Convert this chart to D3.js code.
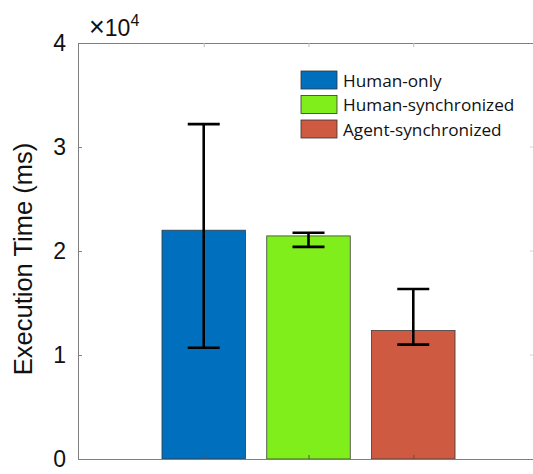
<!DOCTYPE html>
<html>
<head>
<meta charset="utf-8">
<script src="https://cdn.jsdelivr.net/npm/d3@7"></script>
<style>
  html, body { margin: 0; padding: 0; background: #fff; overflow: hidden; }
  svg { display: block; overflow: hidden; }
</style>
</head>
<body>
<svg id="chart" width="533" height="474"></svg>
<script>
const categories = ["Human-only", "Human-synchronized", "Agent-synchronized"];
const positions = [1, 2, 3];
const means = [22000, 21450, 12350];
const errLow = [10700, 20400, 11000];
const errHigh = [32200, 21750, 16350];
const colors = ["#0070BE", "#80EE1A", "#CD5A41"];
const yTicks = [0, 10000, 20000, 30000, 40000];
const yTickLabels = ["0", "1", "2", "3", "4"];

(function () {
const svg = d3.select("#chart");
const mLeft = 78, mRight = 539, mTop = 43, mBottom = 459;
const visRight = 533;
const axisColor = "#7f7f7f";

const x = d3.scaleLinear().domain([-0.2, 4.2]).range([mLeft, mRight]);
const y = d3.scaleLinear().domain([0, 40000]).range([mBottom, mTop]);
const barW = 83.5;

// bars
svg.append("g").selectAll("rect").data(means).join("rect")
  .attr("x", (d, i) => x(positions[i]) - barW / 2)
  .attr("y", d => y(d))
  .attr("width", barW)
  .attr("height", d => y(0) - y(d))
  .attr("fill", (d, i) => colors[i])
  .attr("stroke", "#3a3a3a")
  .attr("stroke-width", 0.8);

// axes
const g = svg.append("g");
const leftAxis = d3.axisLeft(y).tickValues(yTicks).tickFormat((d, i) => yTickLabels[i]).tickSizeInner(-4).tickSizeOuter(0).tickPadding(12);
const ga = g.append("g").attr("transform", `translate(${mLeft},0)`).call(leftAxis);
ga.select(".domain").attr("stroke", axisColor);
ga.selectAll(".tick line").attr("stroke", axisColor);
ga.selectAll(".tick text")
  .attr("font-family", "'Liberation Sans', Arial, sans-serif")
  .attr("font-size", 23)
  .attr("fill", "#111");

// right-side tick stubs (the right frame edge lies just outside the view)
g.append("g").selectAll("line").data(yTicks.slice(1, 4)).join("line")
  .attr("x1", visRight - 3).attr("x2", visRight)
  .attr("y1", d => y(d)).attr("y2", d => y(d))
  .attr("stroke", "#d0d0d0");

const bottomAxis = d3.axisBottom(x).tickValues(positions).tickFormat("").tickSizeInner(-4).tickSizeOuter(0);
const gb = g.append("g").attr("transform", `translate(0,${mBottom})`).call(bottomAxis);
gb.select(".domain").attr("stroke", axisColor);
gb.selectAll(".tick line").attr("stroke", "#555");

const topAxis = d3.axisTop(x).tickValues(positions).tickFormat("").tickSizeInner(-4).tickSizeOuter(0);
const gt = g.append("g").attr("transform", `translate(0,${mTop})`).call(topAxis);
gt.select(".domain").attr("stroke", axisColor);
gt.selectAll(".tick line").attr("stroke", "#bbb");

// error bars
const capHalf = 16;
const eb = svg.append("g").attr("stroke", "#000").attr("stroke-width", 2.6).attr("fill", "none");
means.forEach((m, i) => {
  const cx = x(positions[i]);
  eb.append("line").attr("x1", cx).attr("x2", cx).attr("y1", y(errLow[i])).attr("y2", y(errHigh[i]));
  eb.append("line").attr("x1", cx - capHalf).attr("x2", cx + capHalf).attr("y1", y(errLow[i])).attr("y2", y(errLow[i]));
  eb.append("line").attr("x1", cx - capHalf).attr("x2", cx + capHalf).attr("y1", y(errHigh[i])).attr("y2", y(errHigh[i]));
});

// exponent label
const ex = svg.append("text")
  .attr("x", 89).attr("y", 36)
  .attr("font-family", "'Liberation Sans', Arial, sans-serif")
  .attr("font-size", 23)
  .attr("fill", "#111");
ex.append("tspan").attr("font-size", 27).text("×");
ex.append("tspan").text("10");
ex.append("tspan").attr("font-size", 16).attr("dy", -10).text("4");

// y label
svg.append("text")
  .attr("transform", `translate(32,${(mTop + mBottom) / 2 + 8}) rotate(-90)`)
  .attr("text-anchor", "middle")
  .attr("font-family", "'Liberation Sans', Arial, sans-serif")
  .attr("font-size", 25.5)
  .attr("fill", "#111")
  .text("Execution Time (ms)");

// legend
const lg = svg.append("g").attr("transform", "translate(301,71)");
const rowH = 24.5;
categories.forEach((c, i) => {
  const row = lg.append("g").attr("transform", `translate(0,${i * rowH})`);
  row.append("rect").attr("width", 36).attr("height", 18)
    .attr("fill", colors[i]).attr("stroke", "#333").attr("stroke-width", 0.8);
  row.append("text").attr("x", 42).attr("y", 9)
    .attr("dominant-baseline", "central")
    .attr("font-family", "'Open Sans', 'Noto Sans', sans-serif")
    .attr("font-size", 17.2)
    .attr("fill", "#111")
    .text(c);
});
})();
</script>
</body>
</html>
